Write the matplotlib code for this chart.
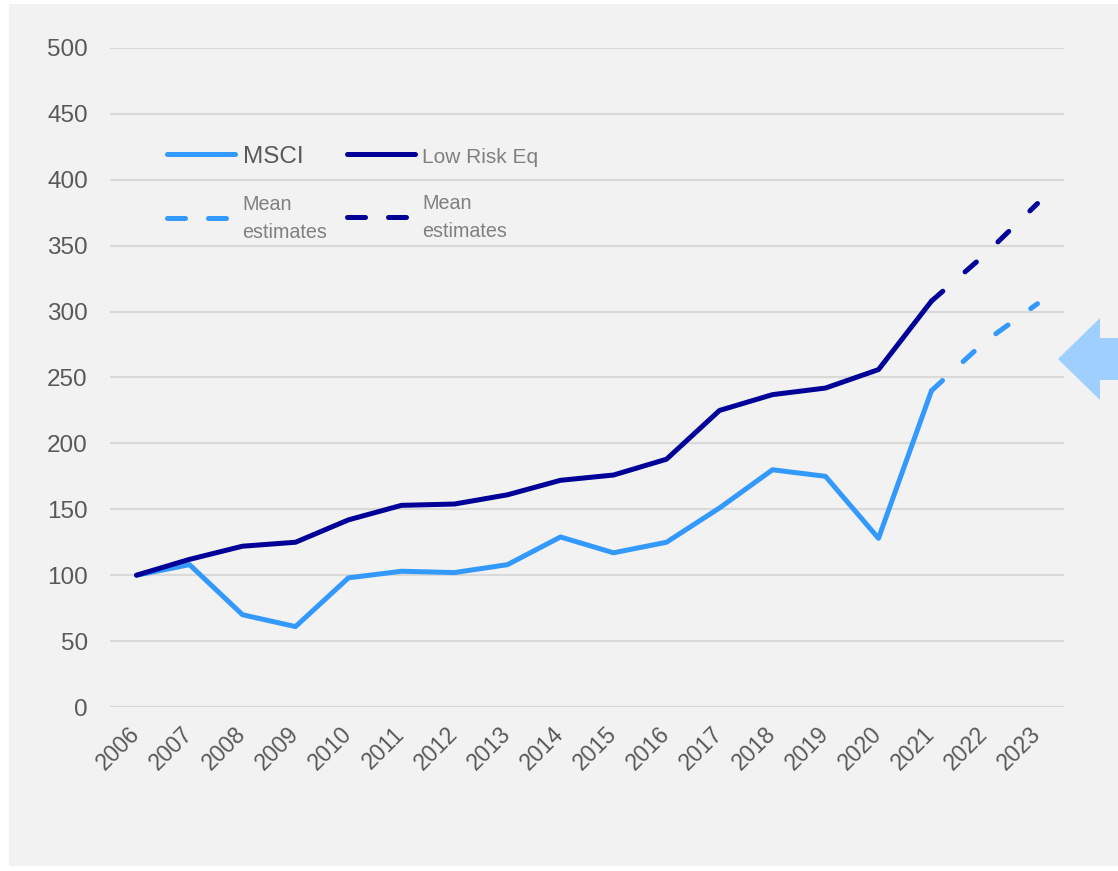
import numpy as np
import matplotlib.pyplot as plt
from matplotlib.patches import Rectangle, Polygon

# ----- data -----
years = [str(y) for y in range(2006, 2024)]

msci = [100, 108, 70, 61, 98, 103, 102, 108, 129, 117, 125, 151, 180, 175, 128, 240]
low_risk = [100, 112, 122, 125, 142, 153, 154, 161, 172, 176, 188, 225, 237, 242, 256, 308]

# estimates start at 2021
msci_est = [240, 277, 306]
low_risk_est = [308, 343, 382]

c_light = "#3399FF"
c_dark = "#000099"
bg = "#F2F2F2"

plt.rcParams["font.family"] = ["Liberation Sans", "DejaVu Sans"]

fig = plt.figure(figsize=(11.18, 8.71), dpi=100)
fig.patch.set_facecolor("white")
fig.patches.append(Rectangle((9 / 1118, 5 / 871), 1, 862 / 871,
                             transform=fig.transFigure, facecolor=bg,
                             edgecolor="none", zorder=-10))

ax = fig.add_axes([110 / 1118, 164 / 871, 954 / 1118, 659 / 871])
ax.set_facecolor("none")

x = np.arange(len(years))
x_hist = x[:len(msci)]
x_est = x[len(msci) - 1:]

ax.plot(x_hist, msci, color=c_light, lw=3.6, solid_capstyle="round",
        solid_joinstyle="round", label="MSCI", zorder=3)
ax.plot(x_est, msci_est, color=c_light, lw=3.6, dashes=(3, 5.6),
        dash_capstyle="round", label="Mean\nestimates", zorder=3)
ax.plot(x_hist, low_risk, color=c_dark, lw=3.6, solid_capstyle="round",
        solid_joinstyle="round", label="Low Risk Eq", zorder=3)
ax.plot(x_est, low_risk_est, color=c_dark, lw=3.6, dashes=(3, 5.9),
        dash_capstyle="round", label="Mean\nestimates", zorder=3)

ax.set_xlim(-0.5, len(years) - 0.5)
ax.set_ylim(0, 500)
ax.set_yticks(range(0, 501, 50))
ax.set_xticks(x)
ax.set_xticklabels(years, rotation=45, ha="right", va="center",
                   rotation_mode="anchor")
ax.tick_params(axis="y", length=0, pad=16, labelsize=17.5, labelcolor="#595959")
ax.tick_params(axis="x", length=0, pad=17, labelsize=16.5, labelcolor="#595959")
ax.grid(axis="y", color="#D9D9D9", lw=1.5, zorder=1)
ax.set_axisbelow(True)
for s in ax.spines.values():
    s.set_visible(False)

leg = ax.legend(ncol=2, loc="upper left", bbox_to_anchor=(0.06, 0.852),
                frameon=False, fontsize=17.5, handlelength=2.8,
                handletextpad=0.3, columnspacing=0.8, labelspacing=1.15,
                borderpad=0, borderaxespad=0)
for h in leg.get_lines()[1::2]:
    h.set_dashes((3.6, 4.6))
texts = leg.get_texts()
texts[0].set_color("#595959")
texts[0].set_fontsize(17.5)
for t in texts[1:]:
    t.set_color("#808080")
    t.set_fontsize(14.2)
    t.set_linespacing(1.55)
texts[2].set_fontsize(15)

# arrow on the right edge
arrow_px = [(1058, 359), (1100, 318), (1100, 338), (1118, 338),
            (1118, 380), (1100, 380), (1100, 400)]
arrow = Polygon([(px / 1118, (871 - py) / 871) for px, py in arrow_px],
                closed=True, facecolor="#9FCFFF", edgecolor="none",
                transform=fig.transFigure)
fig.patches.append(arrow)

fig.savefig("out.png", dpi=100)
